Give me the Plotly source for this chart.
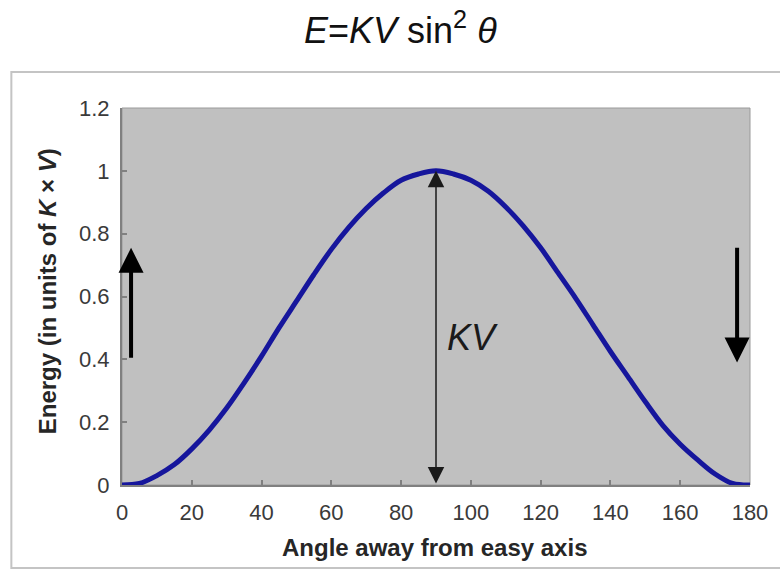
import plotly.graph_objects as go

# ---- data ----
angle_deg = [0, 5, 10, 15, 20, 25, 30, 35, 40, 45, 50, 55, 60, 65, 70, 75, 80, 85, 90,
             95, 100, 105, 110, 115, 120, 125, 130, 135, 140, 145, 150, 155, 160, 165, 170, 175, 180]
energy = [0.0, 0.005, 0.03, 0.065, 0.115, 0.175, 0.245, 0.325, 0.41, 0.5, 0.585, 0.67, 0.75, 0.82,
          0.88, 0.93, 0.97, 0.99, 1.0,
          0.99, 0.97, 0.935, 0.885, 0.825, 0.755, 0.675, 0.595, 0.51, 0.425, 0.345, 0.265, 0.19,
          0.13, 0.08, 0.035, 0.005, 0.0]
x_ticks = [0, 20, 40, 60, 80, 100, 120, 140, 160, 180]
y_ticks = [0, 0.2, 0.4, 0.6, 0.8, 1.0, 1.2]
y_tick_labels = ["0", "0.2", "0.4", "0.6", "0.8", "1", "1.2"]
x_range = [0, 180]
y_range = [0, 1.2]

# arrows: (x, tail_y, head_y)
up_arrow = (2.6, 0.40, 0.755)
down_arrow = (176.3, 0.76, 0.39)
kv_arrow = (90, 0.0, 1.0)
kv_label_pos = (100.5, 0.47)

title_text = "<i>E</i>=<i>KV</i> sin<sup>2</sup> <i>θ</i>"
x_title = "Angle away from easy axis"
y_title = "Energy (in units of <i>K</i> × <i>V</i>)"

# ---- layout geometry (pixels) ----
W, H = 780, 571
L, R, T, B = 122, 752, 108, 485
pw, ph = R - L, B - T


def px(xp):
    return (xp - L) / pw


def py(yp):
    return (B - yp) / ph


FONT = "Liberation Sans, Arial, sans-serif"
TICK_COLOR = "#3a3a3a"
AXIS_COLOR = "#808080"

fig = go.Figure()
fig.add_trace(go.Scatter(
    x=angle_deg, y=energy, mode="lines",
    line=dict(color="#16169c", width=5, shape="spline", smoothing=1.0),
    hoverinfo="skip", showlegend=False,
))

annotations = []
for (ax_x, tail_y, head_y) in (up_arrow, down_arrow):
    annotations.append(dict(
        x=ax_x, y=head_y, ax=ax_x, ay=tail_y,
        xref="x", yref="y", axref="x", ayref="y", text="", showarrow=True,
        arrowhead=2, arrowwidth=4, arrowsize=1.25, arrowcolor="#000000",
        standoff=0, startstandoff=0,
    ))
# double-headed KV arrow
annotations.append(dict(
    x=kv_arrow[0], y=kv_arrow[2], ax=kv_arrow[0], ay=kv_arrow[1],
    xref="x", yref="y", axref="x", ayref="y", text="", showarrow=True,
    arrowhead=2, startarrowhead=2, arrowside="end+start",
    arrowwidth=1.5, arrowsize=2.2, startarrowsize=2.2, arrowcolor="#1a1a1a",
    standoff=0, startstandoff=0,
))
# KV label
annotations.append(dict(
    x=kv_label_pos[0], y=kv_label_pos[1], xref="x", yref="y",
    text="<i>KV</i>", showarrow=False,
    font=dict(family=FONT, size=36, color="#1a1a1a"),
))
# axis titles
annotations.append(dict(
    x=px(435), y=py(547), xref="paper", yref="paper",
    text="<b>" + x_title + "</b>", showarrow=False,
    font=dict(family=FONT, size=24, color="#262626"),
    xanchor="center", yanchor="middle",
))
annotations.append(dict(
    x=px(47), y=py(291), xref="paper", yref="paper",
    text="<b>" + y_title + "</b>", showarrow=False, textangle=-90,
    font=dict(family=FONT, size=24, color="#262626"),
    xanchor="center", yanchor="middle",
))
# chart title
annotations.append(dict(
    x=px(401), y=py(28), xref="paper", yref="paper",
    text=title_text, showarrow=False,
    font=dict(family=FONT, size=36, color="#111111"),
    xanchor="center", yanchor="middle",
))

shapes = [
    # outer chart frame
    dict(type="rect", xref="paper", yref="paper",
         x0=px(11), x1=px(800), y0=py(568), y1=py(72),
         line=dict(color="#c4c4c4", width=2), fillcolor="rgba(0,0,0,0)", layer="below"),
    # plot-area border (top/right)
    dict(type="rect", xref="paper", yref="paper",
         x0=0, x1=1, y0=0, y1=1,
         line=dict(color="#9a9a9a", width=1), fillcolor="rgba(0,0,0,0)", layer="below"),
]

fig.update_layout(
    width=W, height=H,
    margin=dict(l=L, r=W - R, t=T, b=H - B, pad=0),
    paper_bgcolor="white",
    plot_bgcolor="#c0c0c0",
    showlegend=False,
    annotations=annotations,
    shapes=shapes,
    font=dict(family=FONT, color=TICK_COLOR),
)
fig.update_xaxes(
    range=x_range, tickvals=x_ticks, ticktext=[str(v) for v in x_ticks],
    ticks="inside", ticklen=5, tickcolor=AXIS_COLOR, tickwidth=1.5,
    showline=True, linecolor=AXIS_COLOR, linewidth=2,
    showgrid=False, zeroline=False,
    tickfont=dict(family=FONT, size=22, color=TICK_COLOR),
    ticklabelstandoff=7, fixedrange=True,
)
fig.update_yaxes(
    range=y_range, tickvals=y_ticks, ticktext=y_tick_labels,
    ticks="inside", ticklen=5, tickcolor=AXIS_COLOR, tickwidth=1.5,
    showline=True, linecolor=AXIS_COLOR, linewidth=2,
    showgrid=False, zeroline=False,
    tickfont=dict(family=FONT, size=22, color=TICK_COLOR),
    ticklabelstandoff=6, fixedrange=True,
)

fig.write_html("out.html", config={"displayModeBar": False})
